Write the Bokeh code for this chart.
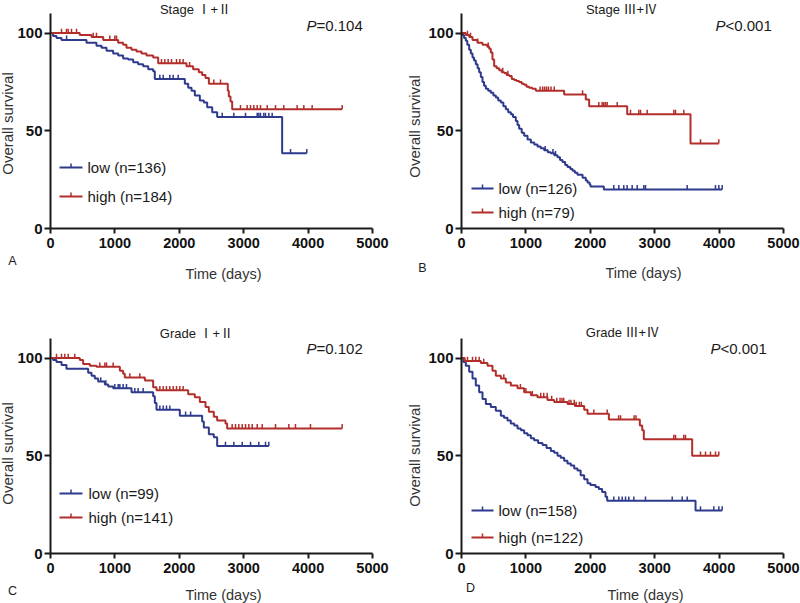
import numpy as np
from bokeh.plotting import figure
from bokeh.models import Range1d, FixedTicker, Label
from bokeh.layouts import column, row
from bokeh.embed import file_html
from bokeh.resources import INLINE

BLUE = "#2e3a8c"
RED = "#b22e2a"
FONT = "Liberation Sans"
TITLE_FONT = "Liberation Sans, Noto Sans CJK SC"

X_TICKS = [0, 1000, 2000, 3000, 4000, 5000]
Y_TICKS = [0, 50, 100]

# ---------------- Panel A : Stage I+II ----------------
A_TITLE = "Stage \u2160+\u2161"
A_P = "=0.104"
A_LOW_LABEL = "low (n=136)"
A_HIGH_LABEL = "high (n=184)"
A_LOW_T = [0, 40, 93, 171, 559, 714, 792, 870, 973, 1051, 1128, 1206, 1284, 1361, 1439, 1517, 1594, 1620,
           2086, 2138, 2190, 2241, 2319, 2381, 2433, 2511, 2588, 3597]
A_LOW_S = [100, 98.5, 97.5, 96.5, 95, 93.5, 92.5, 91, 89.5, 88.5, 87, 86.5, 85, 84, 83, 81.5, 80.5, 76.5,
           74, 72, 70.5, 68, 65.5, 64.5, 62, 59.5, 57, 38.5]
A_LOW_END = 3980
A_LOW_CENS = [250, 1698, 1750, 1853, 1905, 1983, 2666, 2847, 3028, 3210, 3235, 3261, 3312, 3338, 3390, 3442,
              3727, 3980]
A_HIGH_T = [0, 455, 637, 818, 1051, 1128, 1180, 1258, 1335, 1413, 1491, 1594, 1672, 2112, 2215, 2303, 2355,
            2407, 2459, 2753, 2769, 2795, 2821]
A_HIGH_S = [100, 99, 98, 96.5, 95, 94, 92.5, 91.5, 90.5, 89.5, 88.5, 87.5, 84.5, 83, 81.5, 80, 78.5,
            77, 74, 70.5, 67.5, 65, 61]
A_HIGH_END = 4529
A_HIGH_CENS = [171, 248, 274, 326, 404, 663, 714, 921, 999, 1025, 1724, 1775, 1827, 1879, 1957, 2008, 2060,
               2160, 2536, 2640, 2950, 3054, 3106, 3157, 3209, 3261, 3365, 3494, 3623, 3830, 3934, 4063, 4529]

# ---------------- Panel B : Stage III+IV ----------------
B_TITLE = "Stage \u2162+\u2163"
B_P = "<0.001"
B_LOW_LABEL = "low (n=126)"
B_HIGH_LABEL = "high (n=79)"
B_LOW_T = [0, 20, 40, 67, 90, 119, 145, 171, 195, 222, 250, 274, 300, 326, 350, 378, 415, 455, 495, 533,
           570, 611, 650, 688, 725, 766, 800, 843, 870, 895, 935, 973, 1025, 1077, 1130, 1180, 1230, 1284,
           1340, 1387, 1440, 1491, 1530, 1568, 1610, 1646, 1690, 1724, 1760, 1801, 1880, 1930, 1957, 1990,
           2003, 2210]
B_LOW_S = [100, 99, 97.5, 96, 94, 91.5, 89.5, 87.5, 86, 84, 82, 80, 77.5, 75, 73, 71.5, 70.5, 69.5, 68, 67,
           65.5, 64.5, 62.5, 61, 59.5, 58.5, 57, 55, 53, 51, 49, 47.5, 45.5, 44, 43, 42, 41, 40,
           39, 38.5, 37.5, 36.5, 35, 34, 32.5, 31.5, 30.5, 29.5, 28.5, 27.5, 26, 24.5, 23.5, 22.5,
           21.5, 20]
B_LOW_END = 4048
B_LOW_CENS = [1300, 1420, 1460, 2365, 2443, 2520, 2572, 2650, 2728, 2831, 2857, 3504, 3944, 3996, 4048]
B_HIGH_T = [0, 67, 120, 171, 248, 326, 400, 430, 455, 481, 507, 545, 585, 625, 663, 700, 740, 780, 818, 855,
            895, 935, 973, 1010, 1051, 1100, 1154, 1594, 1930, 1982, 2573, 3556]
B_HIGH_S = [100, 99, 98, 96.5, 95, 94, 93, 92, 90, 86.5, 83, 82, 81, 80, 79.5, 78.5, 78, 76.5, 76, 75.5,
            75, 74, 73.5, 72.5, 72, 71.5, 70.5, 68.5, 66, 62.5, 58.5, 43.5]
B_HIGH_END = 3995
B_HIGH_CENS = [93, 140, 250, 415, 640, 720, 1220, 1260, 1290, 1320, 1350, 1390, 1440, 1880, 2132, 2184,
               2210, 2236, 2262, 2418, 2624, 2753, 2780, 2883, 3297, 3323, 3452, 3711, 3995]

# ---------------- Panel C : Grade I+II ----------------
C_TITLE = "Grade \u2160+\u2161"
C_P = "=0.102"
C_LOW_LABEL = "low (n=99)"
C_HIGH_LABEL = "high (n=141)"
C_LOW_T = [0, 40, 93, 171, 248, 585, 637, 688, 740, 844, 896, 973, 1258, 1594, 1620, 1646, 2008, 2355, 2381,
           2459, 2536, 2588]
C_LOW_S = [100, 99, 98, 96.5, 94.5, 92.5, 91, 89.5, 88, 86.5, 85.5, 84.5, 82.5, 80.5, 77, 73.5, 70.5, 67.5,
           64.5, 61, 59.5, 55]
C_LOW_END = 3390
C_LOW_CENS = [780, 860, 999, 1051, 1077, 1128, 1180, 1309, 1361, 1439, 1698, 1750, 1801, 1853, 2098, 2176,
              2717, 2847, 2977, 3106, 3235, 3339, 3390]
C_HIGH_T = [0, 455, 507, 611, 714, 1077, 1128, 1154, 1465, 1594, 1646, 2138, 2241, 2319, 2407, 2459, 2536,
            2588, 2717, 2743]
C_HIGH_S = [100, 99, 97, 96, 95.5, 93.5, 92, 90, 88.5, 85, 83.5, 81.5, 80, 77.5, 75, 72.5, 70, 68, 66.5, 64]
C_HIGH_END = 4529
C_HIGH_CENS = [93, 171, 222, 275, 377, 766, 844, 870, 973, 1232, 1387, 1698, 1750, 1800, 1853, 1905, 1957,
               2008, 2060, 2821, 2873, 2924, 2977, 3028, 3080, 3132, 3210, 3287, 3494, 3701, 3804, 4037, 4529]

# ---------------- Panel D : Grade III+IV ----------------
D_TITLE = "Grade \u2162+\u2163"
D_P = "<0.001"
D_LOW_LABEL = "low (n=158)"
D_HIGH_LABEL = "high (n=122)"
D_LOW_T = [0, 30, 67, 119, 171, 222, 274, 326, 378, 455, 533, 611, 660, 714, 765, 818, 870, 921, 973, 1025,
           1077, 1128, 1190, 1258, 1320, 1387, 1440, 1491, 1540, 1594, 1645, 1697, 1750, 1801, 1850, 1905,
           1957, 2003, 2081, 2132, 2184, 2236, 2262, 3634]
D_LOW_S = [100, 98, 96, 93, 89.5, 86, 82.5, 79, 76.5, 75, 73, 70.5, 69.5, 68, 66.5, 65.5, 64, 63, 61.5, 60.5,
           59, 58, 56.5, 55.5, 54, 52.5, 51.5, 50, 49, 47.5, 46, 45, 43.5, 42.5, 40, 38,
           36, 35, 34, 33, 31.5, 29, 27, 22]
D_LOW_END = 4048
D_LOW_CENS = [2365, 2443, 2495, 2547, 2598, 2676, 2857, 3272, 3427, 3505, 3711, 3918, 3996, 4048]
D_HIGH_T = [0, 50, 300, 404, 481, 533, 611, 688, 766, 870, 973, 1077, 1180, 1335, 1439, 1646, 1760, 1905,
            1957, 2288, 2769, 2806, 2831, 3582]
D_HIGH_S = [100, 98.5, 97.5, 96, 93.5, 91, 89.5, 87.5, 86, 84.5, 82.5, 81, 80, 78.5, 77.5, 76.5, 75.5, 73.5,
            71.5, 68.5, 65.5, 63, 58.5, 50]
D_HIGH_END = 3995
D_HIGH_CENS = [93, 171, 222, 274, 345, 657, 915, 1000, 1100, 1230, 1277, 1330, 1400, 1480, 1530, 1560, 1587,
               1670, 1700, 1750, 1780, 1830, 1860, 2055, 2262, 2440, 2470, 2680, 2710, 3297, 3323, 3452, 3478,
               3711, 3789, 3866, 3944, 3995]

X_END = 5000
Y_END = 110
PX_PER_DAY = 322 / X_END      # axis length 322 px for 0..5000 days
PX_PER_UNIT = 215 / Y_END     # axis length 215 px for 0..110 %


def make_panel(spec):
    fx0, fy0, fx1, fy1 = spec["box"]      # page-pixel box of this figure
    ox, oy = spec["origin"]               # page pixel of the data origin (0 days, 0 %)

    def dx(ix):
        return (ix - ox) / PX_PER_DAY

    def dy(iy):
        return (oy - iy) / PX_PER_UNIT

    p = figure(width=fx1 - fx0, height=fy1 - fy0, output_backend="svg", toolbar_location=None,
               x_range=Range1d(dx(fx0), dx(fx1)), y_range=Range1d(dy(fy1), dy(fy0)),
               min_border_left=0, min_border_right=0, min_border_top=0, min_border_bottom=0)
    p.outline_line_color = None
    p.xgrid.visible = False
    p.ygrid.visible = False
    p.background_fill_color = "white"
    p.border_fill_color = "white"

    p.xaxis.fixed_location = 0
    p.yaxis.fixed_location = 0
    p.xaxis.bounds = (0, X_END)
    p.yaxis.bounds = (0, Y_END)

    for ax, ticks, tout, stand, fs in ((p.xaxis, X_TICKS, 5, 4, "14.5px"), (p.yaxis, Y_TICKS, 6, 2, "15px")):
        ax.ticker = FixedTicker(ticks=ticks)
        ax.axis_line_width = 2
        ax.axis_line_color = "#1a1a1a"
        ax.major_tick_line_width = 2
        ax.major_tick_line_color = "#1a1a1a"
        ax.major_tick_in = 0
        ax.major_tick_out = tout
        ax.minor_tick_in = 0
        ax.minor_tick_out = 0
        ax.major_label_standoff = stand
        ax.major_label_text_font = FONT
        ax.major_label_text_font_style = "bold"
        ax.major_label_text_font_size = fs
        ax.major_label_text_color = "#111111"

    # survival curves + censor ticks
    for T, S, END, CENS, col in spec["series"]:
        xs = list(T) + [END]
        ys = list(S) + [S[-1]]
        p.step(xs, ys, mode="after", line_color=col, line_width=2)
        c = np.array(CENS, dtype=float)
        idx = np.searchsorted(np.array(T, dtype=float), c, side="right") - 1
        cy = np.array(S, dtype=float)[idx]
        p.segment(x0=c, y0=cy, x1=c, y1=cy + 2.2, line_color=col, line_width=1.5)

    # legend
    lx0, lx1, ltx, ly_low, ly_high = spec["legend"]
    for (lab, col), ly in zip(spec["legend_items"], (ly_low, ly_high)):
        p.segment(x0=[dx(lx0)], y0=[dy(ly)], x1=[dx(lx1)], y1=[dy(ly)], line_color=col, line_width=2)
        mid = (lx0 + lx1) / 2
        p.segment(x0=[dx(mid)], y0=[dy(ly)], x1=[dx(mid)], y1=[dy(ly - 4)], line_color=col, line_width=1.5)
        p.add_layout(Label(x=dx(ltx), y=dy(ly), text=lab, text_font=FONT, text_font_size="15px",
                           text_baseline="middle", text_align="left", text_color="#1a1a1a"))

    # title
    tx, ty = spec["title_pos"]
    p.add_layout(Label(x=dx(tx), y=dy(ty), text=spec["title"], text_font=TITLE_FONT, text_font_size="13px",
                       text_baseline="middle", text_align="center", text_color="#1a1a1a"))
    # P value
    px_, py_ = spec["p_pos"]
    p.add_layout(Label(x=dx(px_), y=dy(py_), text="P", text_font=FONT, text_font_size="15px",
                       text_font_style="italic", text_baseline="middle", text_align="left",
                       text_color="#1a1a1a"))
    p.add_layout(Label(x=dx(px_), y=dy(py_), x_offset=10, text=spec["p"], text_font=FONT,
                       text_font_size="15px", text_baseline="middle", text_align="left",
                       text_color="#1a1a1a"))
    # axis titles
    xtx, xty = spec["xlab_pos"]
    p.add_layout(Label(x=dx(xtx), y=dy(xty), text="Time (days)", text_font=FONT, text_font_size="14.5px",
                       text_baseline="middle", text_align="center", text_color="#333333"))
    ytx, yty = spec["ylab_pos"]
    p.add_layout(Label(x=dx(ytx), y=dy(yty), text="Overall survival", text_font=FONT,
                       text_font_size="15px", angle=np.pi / 2, text_baseline="middle",
                       text_align="center", text_color="#333333"))
    # panel letter
    lx, ly = spec["letter_pos"]
    p.add_layout(Label(x=dx(lx), y=dy(ly), text=spec["letter"], text_font=FONT, text_font_size="12.5px",
                       text_baseline="middle", text_align="center", text_color="#1a1a1a"))
    return p


specs = [
    dict(box=(0, 0, 400, 300), origin=(50, 228),
         series=[(A_LOW_T, A_LOW_S, A_LOW_END, A_LOW_CENS, BLUE),
                 (A_HIGH_T, A_HIGH_S, A_HIGH_END, A_HIGH_CENS, RED)],
         legend=(59, 82, 87, 167, 196), legend_items=[(A_LOW_LABEL, BLUE), (A_HIGH_LABEL, RED)],
         title=A_TITLE, title_pos=(195, 9), p=A_P, p_pos=(306, 25),
         xlab_pos=(223, 273), ylab_pos=(7, 123), letter="A", letter_pos=(12, 260)),
    dict(box=(400, 0, 800, 300), origin=(461, 228),
         series=[(B_LOW_T, B_LOW_S, B_LOW_END, B_LOW_CENS, BLUE),
                 (B_HIGH_T, B_HIGH_S, B_HIGH_END, B_HIGH_CENS, RED)],
         legend=(471, 493, 498, 188, 212), legend_items=[(B_LOW_LABEL, BLUE), (B_HIGH_LABEL, RED)],
         title=B_TITLE, title_pos=(621, 9), p=B_P, p_pos=(715, 25),
         xlab_pos=(643, 272), ylab_pos=(414, 126), letter="B", letter_pos=(422, 267)),
    dict(box=(0, 300, 400, 603), origin=(50, 553),
         series=[(C_LOW_T, C_LOW_S, C_LOW_END, C_LOW_CENS, BLUE),
                 (C_HIGH_T, C_HIGH_S, C_HIGH_END, C_HIGH_CENS, RED)],
         legend=(59, 82, 88, 493, 517), legend_items=[(C_LOW_LABEL, BLUE), (C_HIGH_LABEL, RED)],
         title=C_TITLE, title_pos=(196, 333), p=C_P, p_pos=(306, 348),
         xlab_pos=(223, 594), ylab_pos=(7, 453), letter="C", letter_pos=(12, 590)),
    dict(box=(400, 300, 800, 603), origin=(461, 553),
         series=[(D_LOW_T, D_LOW_S, D_LOW_END, D_LOW_CENS, BLUE),
                 (D_HIGH_T, D_HIGH_S, D_HIGH_END, D_HIGH_CENS, RED)],
         legend=(471, 493, 498, 510, 537), legend_items=[(D_LOW_LABEL, BLUE), (D_HIGH_LABEL, RED)],
         title=D_TITLE, title_pos=(622, 332), p=D_P, p_pos=(710, 348),
         xlab_pos=(645, 594), ylab_pos=(414, 455), letter="D", letter_pos=(470, 587)),
]

panels = [make_panel(s) for s in specs]
layout = column(row(panels[0], panels[1]), row(panels[2], panels[3]))

open("out.html", "w").write(file_html(layout, INLINE))
